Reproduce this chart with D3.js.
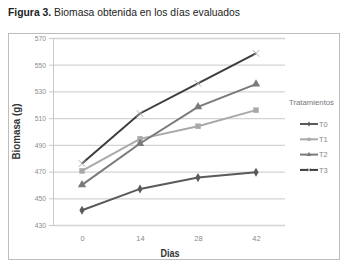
<!DOCTYPE html>
<html>
<head>
<meta charset="utf-8">
<script src="https://cdn.jsdelivr.net/npm/d3@7"></script>
<style>
  body { margin: 0; background: #fff; }
  svg { display: block; }
</style>
</head>
<body>
<div id="chart"></div>
<script>
var days = ["0", "14", "28", "42"]
var yTicks = [430, 450, 470, 490, 510, 530, 550, 570]
var seriesNames = ["T0", "T1", "T2", "T3"]
var t0 = [441, 457, 465.5, 469.5]
var t1 = [470.5, 494.5, 504, 516]
var t2 = [460, 491, 518.5, 535.5]
var t3 = [476, 513.5, 536, 558.5]

var W = 353, H = 272
var plot = { left: 53, right: 285, top: 38, bottom: 225 }
var font = "'Liberation Sans', Arial, sans-serif"

var svg = d3.select("#chart").append("svg")
    .attr("width", W)
    .attr("height", H)

// title (condensed look via textLength)
var title = svg.append("text")
    .attr("x", 8)
    .attr("y", 16)
    .attr("font-family", font)
    .attr("font-size", "11.5px")
    .attr("fill", "#222")
    .attr("textLength", 232)
    .attr("lengthAdjust", "spacingAndGlyphs")
title.append("tspan").attr("font-weight", "bold").text("Figura 3.")
title.append("tspan").text(" Biomasa obtenida en los días evaluados")

// chart frame
svg.append("rect")
    .attr("x", 8.5).attr("y", 33.5)
    .attr("width", 331).attr("height", 226)
    .attr("fill", "none")
    .attr("stroke", "#bdbdbd")
    .attr("stroke-width", 1)

var x = d3.scalePoint()
    .domain(days)
    .range([plot.left, plot.right])
    .padding(0.5)

var y = d3.scaleLinear()
    .domain([430, 570])
    .range([plot.bottom, plot.top])

// grid
svg.append("g")
    .attr("transform", "translate(" + plot.left + ",0)")
    .call(d3.axisLeft(y).tickValues(yTicks).tickSize(-(plot.right - plot.left)).tickFormat(""))
    .call(function(g){
        g.select(".domain").remove()
        g.selectAll("line").attr("stroke", "#d4d4d4").attr("stroke-width", 1.3)
    })

// y axis
svg.append("g")
    .attr("transform", "translate(" + plot.left + ",0)")
    .call(d3.axisLeft(y).tickValues(yTicks).tickSize(4).tickPadding(3))
    .call(function(g){
        g.select(".domain").attr("stroke", "#c8c8c8")
        g.selectAll("line").attr("stroke", "#c8c8c8")
        g.selectAll("text")
            .attr("fill", "#8a8a8a")
            .attr("font-size", "7.5px")
            .attr("font-family", font)
            .attr("transform", "scale(0.9,1)")
            .attr("x", -7 / 0.9)
    })

// x labels
svg.append("g")
    .attr("transform", "translate(0," + plot.bottom + ")")
    .call(d3.axisBottom(x).tickSize(0).tickPadding(11))
    .call(function(g){
        g.select(".domain").remove()
        g.selectAll("text")
            .attr("fill", "#8a8a8a")
            .attr("font-size", "7.5px")
            .attr("font-family", font)
    })

// axis titles
svg.append("text")
    .attr("x", 170).attr("y", 257)
    .attr("text-anchor", "middle")
    .attr("font-family", font)
    .attr("font-weight", "bold")
    .attr("font-size", "10px")
    .attr("fill", "#333")
    .attr("textLength", 19)
    .attr("lengthAdjust", "spacingAndGlyphs")
    .text("Dias")

svg.append("text")
    .attr("transform", "translate(20," + ((plot.top + plot.bottom) / 2) + ") rotate(-90)")
    .attr("text-anchor", "middle")
    .attr("font-family", font)
    .attr("font-weight", "bold")
    .attr("font-size", "10px")
    .attr("fill", "#333")
    .attr("textLength", 56)
    .attr("lengthAdjust", "spacingAndGlyphs")
    .text("Biomasa (g)")

var series = [
    { name: seriesNames[0], values: t0, color: "#5a5a5a", marker: "diamond" },
    { name: seriesNames[1], values: t1, color: "#a9a9a9", marker: "square" },
    { name: seriesNames[2], values: t2, color: "#7a7a7a", marker: "triangle" },
    { name: seriesNames[3], values: t3, color: "#3c3c3c", marker: "cross" }
]

var line = d3.line()
    .x(function(d, i){ return x(days[i]) })
    .y(function(d){ return y(d) })

var symbols = { diamond: d3.symbolDiamond, square: d3.symbolSquare, triangle: d3.symbolTriangle, cross: d3.symbolX }

function drawMarker(g, s, cx, cy, size){
    var p = g.append("path")
        .attr("d", d3.symbol(symbols[s.marker], s.marker == "diamond" ? size * 0.8 : size)())
        .attr("transform", "translate(" + cx + "," + cy + ")")
    if (s.marker == "cross") {
        p.attr("fill", "none").attr("stroke", "#b0b0b0").attr("stroke-width", 1)
    } else {
        p.attr("fill", s.color)
    }
}

var lines = svg.append("g")
series.forEach(function(s){
    lines.append("path")
        .datum(s.values)
        .attr("d", line)
        .attr("fill", "none")
        .attr("stroke", s.color)
        .attr("stroke-width", 2)
    s.values.forEach(function(v, i){
        drawMarker(lines, s, x(days[i]), y(v), 30)
    })
})

// legend
var legend = svg.append("g")
legend.append("text")
    .attr("x", 289).attr("y", 105)
    .attr("font-family", font)
    .attr("font-size", "7.5px")
    .attr("fill", "#777")
    .attr("textLength", 45)
    .attr("lengthAdjust", "spacingAndGlyphs")
    .text("Tratamientos")

series.forEach(function(s, i){
    var ly = 124 + i * 15.3
    legend.append("line")
        .attr("x1", 300).attr("x2", 318)
        .attr("y1", ly).attr("y2", ly)
        .attr("stroke", s.color)
        .attr("stroke-width", 2)
    drawMarker(legend, s, 309, ly, 10)
    legend.append("text")
        .attr("x", 319).attr("y", ly + 2.7)
        .attr("font-family", font)
        .attr("font-size", "7.5px")
        .attr("fill", "#888")
        .text(s.name)
})
</script>
</body>
</html>
